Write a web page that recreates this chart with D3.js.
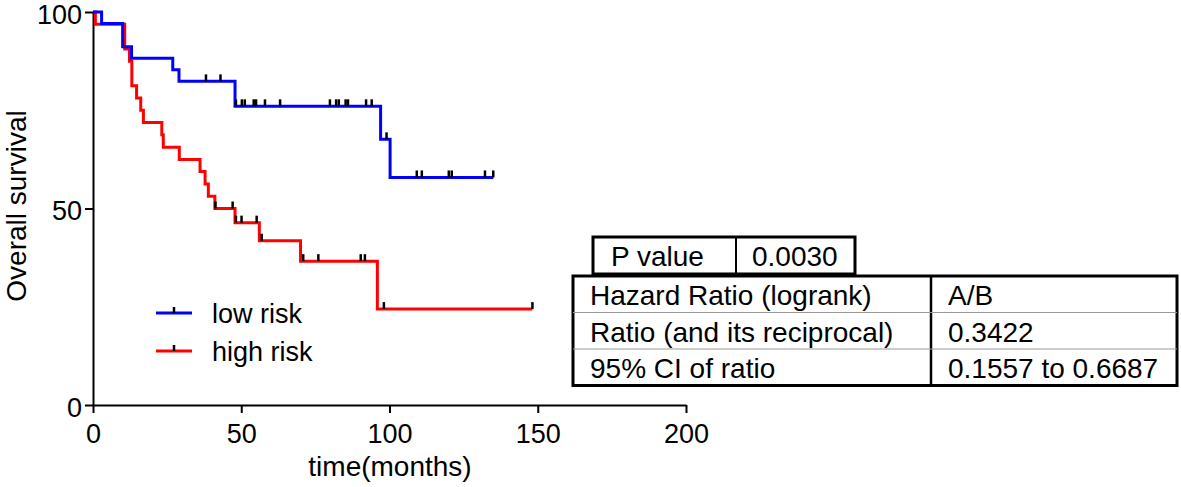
<!DOCTYPE html>
<html>
<head>
<meta charset="utf-8">
<script src="https://cdn.jsdelivr.net/npm/d3@7"></script>
<style>
  body { margin: 0; background: #fff; }
  svg { font-family: Arial, "Liberation Sans", sans-serif; }
</style>
</head>
<body>
<svg id="chart"></svg>
<script>
// step points of the KM curves (months, % surviving)
const lowTimes = [0, 2.9, 10.0, 13.0, 26.9, 29.0, 47.9, 97.0, 100.2, 135.0];
const lowSurv = [100, 97.06, 91.18, 88.24, 85.29, 82.35, 76.0, 67.6, 57.9, 57.9];
const highTimes = [0, 0.8, 10.7, 12.3, 13.1, 14.7, 16.1, 17.0, 23.2, 23.7, 29.1, 36.1, 37.8, 38.9, 41.1, 47.9, 56.1, 70.0, 95.9, 148.2];
const highSurv = [100, 96.9, 90.6, 87.5, 81.25, 78.1, 75.0, 71.9, 68.75, 65.6, 62.5, 59.4, 56.25, 53.1, 50.0, 46.4, 41.8, 36.6, 24.4, 24.4];

// censored times
const lowCensor = [38.1, 43.0, 48.2, 50.2, 51.2, 54.2, 55.0, 58.0, 63.1, 79.9, 82.0, 82.9, 85.2, 86.0, 92.1, 94.0, 99.0, 109.2, 110.9, 120.0, 121.0, 132.2, 135.0];
const highCensor = [41.3, 47.1, 48.2, 50.1, 55.2, 56.9, 70.9, 76.0, 90.3, 91.7, 98.1, 148.2];

const xTicks = [0, 50, 100, 150, 200];
const yTicks = [0, 50, 100];
const seriesNames = ["low risk", "high risk"];
const seriesColors = ["#0000ff", "#ff0000"];

// logrank table
const pRow = ["P value", "0.0030"];
const tableRows = [
  ["Hazard Ratio (logrank)", "A/B"],
  ["Ratio (and its reciprocal)", "0.3422"],
  ["95% CI of ratio", "0.1557 to 0.6687"]
];

const W = 1181, H = 487;
const svg = d3.select("#chart").attr("width", W).attr("height", H);

const x = d3.scaleLinear().domain([0, 200]).range([93, 686]);
const y = d3.scaleLinear().domain([0, 100]).range([405, 12]);

// axes
const xAxis = svg.append("g").attr("transform", "translate(0,405)")
  .call(d3.axisBottom(x).tickValues(xTicks).tickSize(8).tickPadding(11).tickSizeOuter(0));
const yAxis = svg.append("g").attr("transform", "translate(93,0)")
  .call(d3.axisLeft(y).tickValues(yTicks).tickSize(8).tickPadding(3).tickSizeOuter(0));
[xAxis, yAxis].forEach(a => {
  a.select(".domain").attr("stroke", "#000").attr("stroke-width", 2);
  a.selectAll(".tick line").attr("stroke", "#000").attr("stroke-width", 2);
  a.selectAll("text").attr("font-size", 27).attr("fill", "#000").attr("font-family", null);
});
// nudge down a bit so the top "100" stays inside the picture
yAxis.selectAll("text").attr("dy", "0.42em");

svg.append("text").attr("x", 390).attr("y", 476).attr("text-anchor", "middle")
  .attr("font-size", 28).text("time(months)");
svg.append("text").attr("transform", "translate(26,206) rotate(-90)")
  .attr("text-anchor", "middle").attr("font-size", 28).text("Overall survival");

// curves
const line = d3.line().x(d => x(d[0])).y(d => y(d[1])).curve(d3.curveStepAfter);
const series = [
  { t: lowTimes, s: lowSurv, c: lowCensor, color: seriesColors[0] },
  { t: highTimes, s: highSurv, c: highCensor, color: seriesColors[1] }
];

function survAt(sr, t) {
  const i = d3.bisectRight(sr.t, t) - 1;
  return sr.s[Math.max(0, i)];
}

// draw red first so blue lies on top
[series[1], series[0]].forEach(sr => {
  svg.append("path")
    .datum(d3.zip(sr.t, sr.s))
    .attr("d", line)
    .attr("fill", "none")
    .attr("stroke", sr.color)
    .attr("stroke-width", 3);
});
series.forEach(sr => {
  svg.selectAll(null)
    .data(sr.c)
    .enter()
    .append("line")
      .attr("x1", d => x(d)).attr("x2", d => x(d))
      .attr("y1", d => y(survAt(sr, d)) - 7)
      .attr("y2", d => y(survAt(sr, d)))
      .attr("stroke", "#000")
      .attr("stroke-width", 2.5);
});

// legend
seriesNames.forEach((name, i) => {
  const ly = 313 + i * 38;
  svg.append("line").attr("x1", 156).attr("x2", 192).attr("y1", ly).attr("y2", ly)
    .attr("stroke", seriesColors[i]).attr("stroke-width", 3);
  svg.append("line").attr("x1", 174).attr("x2", 174).attr("y1", ly - 6).attr("y2", ly)
    .attr("stroke", "#000").attr("stroke-width", 2.5);
  svg.append("text").attr("x", 212).attr("y", ly + 10).attr("font-size", 27).text(name);
});

// P value box
svg.append("rect").attr("x", 593).attr("y", 237).attr("width", 262).attr("height", 37)
  .attr("fill", "none").attr("stroke", "#000").attr("stroke-width", 3);
svg.append("line").attr("x1", 736).attr("x2", 736).attr("y1", 237).attr("y2", 274)
  .attr("stroke", "#000").attr("stroke-width", 2);
svg.append("text").attr("x", 611).attr("y", 266).attr("font-size", 28).text(pRow[0]);
svg.append("text").attr("x", 752).attr("y", 266).attr("font-size", 28).text(pRow[1]);

// main table
const tx = 573, ty = 276, tw = 604, rh = 36.5, colX = 931;
svg.append("rect").attr("x", tx).attr("y", ty).attr("width", tw).attr("height", rh * 3)
  .attr("fill", "none").attr("stroke", "#000").attr("stroke-width", 3);
svg.append("line").attr("x1", colX).attr("x2", colX).attr("y1", ty).attr("y2", ty + rh * 3)
  .attr("stroke", "#000").attr("stroke-width", 2.5);
[1, 2].forEach(r => {
  svg.append("line").attr("x1", tx).attr("x2", tx + tw)
    .attr("y1", ty + rh * r).attr("y2", ty + rh * r)
    .attr("stroke", "#999").attr("stroke-width", 1);
});
tableRows.forEach((row, r) => {
  const by = ty + rh * r + 29;
  svg.append("text").attr("x", 590).attr("y", by).attr("font-size", 28).text(row[0]);
  svg.append("text").attr("x", 948).attr("y", by).attr("font-size", 28).text(row[1]);
});
</script>
</body>
</html>
